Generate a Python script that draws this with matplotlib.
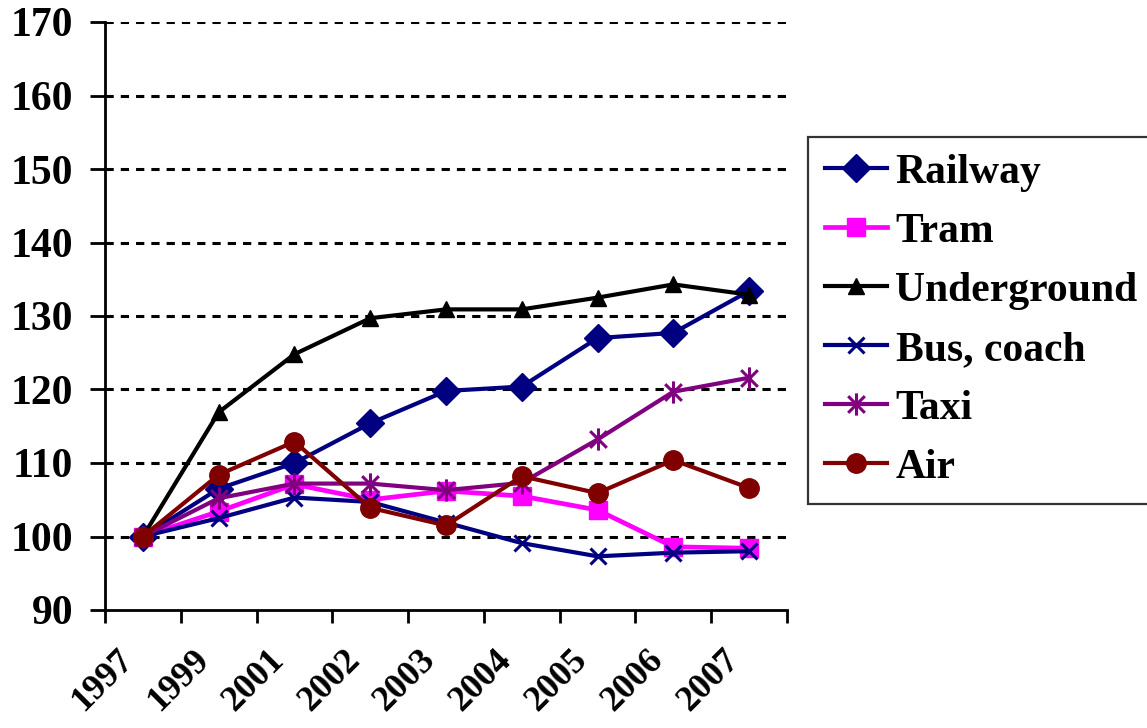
import matplotlib
matplotlib.use("Agg")
import matplotlib.pyplot as plt
from matplotlib.path import Path
from matplotlib.transforms import ScaledTranslation
import numpy as np

years = ["1997", "1999", "2001", "2002", "2003", "2004", "2005", "2006", "2007"]

railway = [100, 106.5, 110.0, 115.4, 119.8, 120.4, 127.0, 127.7, 133.4]
tram = [100, 103.4, 107.1, 105.0, 106.2, 105.5, 103.6, 98.6, 98.4]
underground = [100, 116.9, 124.8, 129.7, 130.9, 130.9, 132.5, 134.3, 132.9]
bus_coach = [100, 102.5, 105.3, 104.7, 101.9, 99.1, 97.3, 97.8, 98.0]
taxi = [100, 105.2, 107.2, 107.2, 106.3, 107.3, 113.2, 119.7, 121.6]
air = [100, 108.4, 112.9, 103.9, 101.5, 108.2, 105.9, 110.4, 106.6]

y_ticks = [90, 100, 110, 120, 130, 140, 150, 160, 170]

# star marker: an X crossed by a vertical bar
star = Path(
    [(0, -1), (0, 1), (-0.75, -0.75), (0.75, 0.75), (-0.75, 0.75), (0.75, -0.75)],
    [Path.MOVETO, Path.LINETO, Path.MOVETO, Path.LINETO, Path.MOVETO, Path.LINETO],
)

series = [
    ("Railway", railway, dict(color="#000080", marker="D", markersize=14, lw=3.0)),
    ("Tram", tram, dict(color="#FF00FF", marker="s", markersize=13, lw=3.4)),
    ("Underground", underground, dict(color="#000000", marker="^", markersize=11, lw=3.0)),
    ("Bus, coach", bus_coach, dict(color="#000080", marker="x", markersize=11, lw=3.0,
                                   markeredgewidth=2.2)),
    ("Taxi", taxi, dict(color="#800080", marker=star, markersize=16, lw=3.0,
                        markeredgewidth=2.2)),
    ("Air", air, dict(color="#800000", marker="o", markersize=14, lw=3.0)),
]

font = "Liberation Serif"
fs = 30

fig = plt.figure(figsize=(11.47, 7.28), dpi=100)
ax = fig.add_axes([105 / 1147, 1 - 610 / 728, (787 - 105) / 1147, (610 - 22) / 728])

x = np.arange(len(years))
for name, vals, style in series:
    ax.plot(x, vals, label=name, clip_on=False, **style)

ax.set_xlim(-0.5, len(years) - 0.5)
ax.set_ylim(90, 170)

# dotted horizontal gridlines
for yv in y_ticks[1:]:
    ax.axhline(yv, color="black", lw=2.2, linestyle=(0, (2.7, 2.3)), zorder=0)

for side in ("top", "right"):
    ax.spines[side].set_visible(False)
for side in ("left", "bottom"):
    ax.spines[side].set_linewidth(2.0)

ax.set_yticks(y_ticks)
ax.set_yticklabels([str(v) for v in y_ticks], fontfamily=font, fontweight="bold",
                   fontsize=fs)
ax.tick_params(axis="y", direction="out", length=11, width=2.0, pad=12)

ax.set_xticks(np.arange(-0.5, len(years), 1.0))
ax.set_xticklabels([])
ax.tick_params(axis="x", which="major", direction="out", length=9, width=2.0)
ax.set_xticks(x, minor=True)
ax.set_xticklabels(years, minor=True, fontfamily=font, fontweight="bold", fontsize=26,
                   rotation=45, ha="right", va="baseline", rotation_mode="anchor")
ax.tick_params(axis="x", which="minor", length=0, pad=37)
shift = ScaledTranslation(-9 / 100, 0, fig.dpi_scale_trans)
for lab in ax.get_xticklabels(minor=True):
    lab.set_transform(lab.get_transform() + shift)

leg = fig.legend(loc="upper left", bbox_to_anchor=(808 / 1147, 1 - 137 / 728),
                 bbox_transform=fig.transFigure, borderaxespad=0,
                 prop=dict(family=font, weight="bold", size=fs),
                 frameon=True, fancybox=False, handlelength=1.5, handletextpad=0.2,
                 labelspacing=0.5, borderpad=0.4)
leg.get_frame().set_edgecolor("black")
leg.get_frame().set_linewidth(1.6)

fig.savefig("out.png", dpi=100)
